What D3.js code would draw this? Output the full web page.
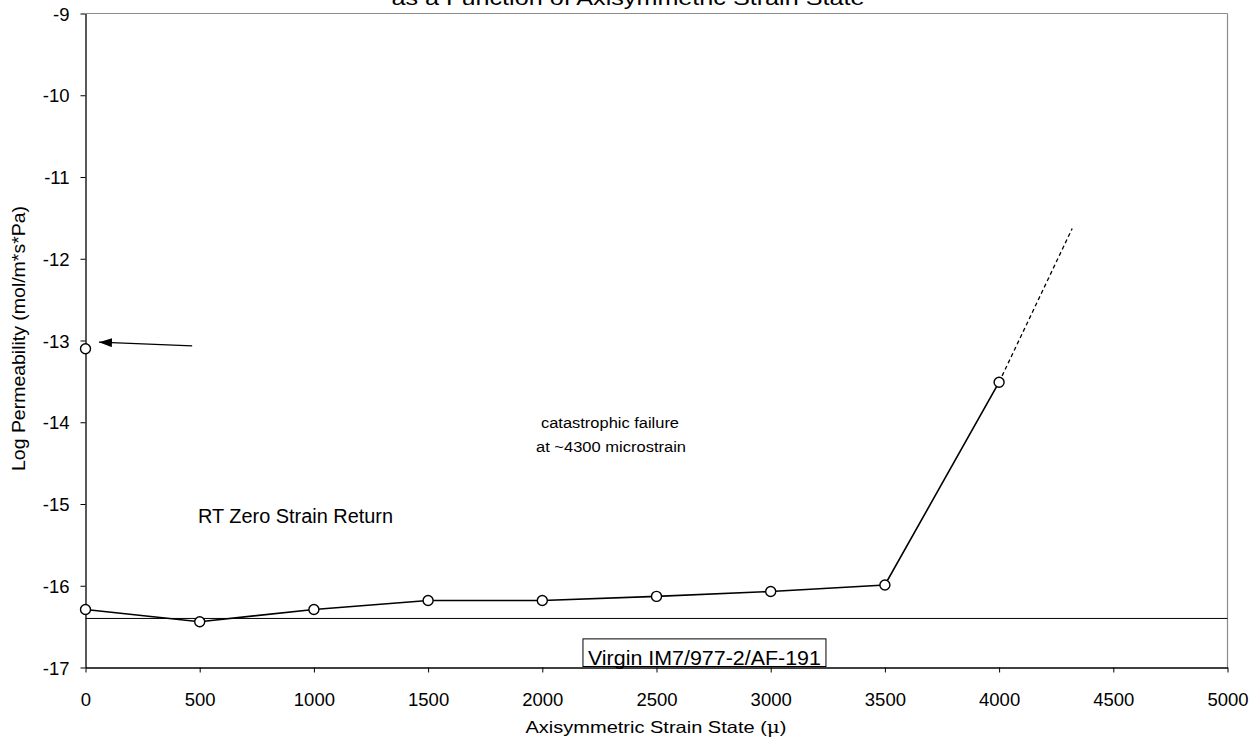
<!DOCTYPE html>
<html>
<head>
<meta charset="utf-8">
<script src="https://cdn.jsdelivr.net/npm/d3@7"></script>
<style>
  html, body { margin: 0; padding: 0; background: #fff; }
  svg { display: block; font-family: "Liberation Sans", Arial, sans-serif; }
</style>
</head>
<body>
<svg id="chart" width="1260" height="745"></svg>
<script>
// Axisymmetric strain levels (microstrain) and measured log permeability
const strain = [0, 500, 1000, 1500, 2000, 2500, 3000, 3500, 4000];
const logPerm = [-16.29, -16.44, -16.29, -16.18, -16.18, -16.13, -16.07, -15.99, -13.51];

// Extrapolated path toward catastrophic failure
const failureStrain = [4000, 4320];
const failureLogPerm = [-13.51, -11.63];

// Room-temperature zero strain return measurement
const returnStrain = [0];
const returnLogPerm = [-13.1];

// Virgin laminate baseline
const virginLogPerm = -16.40;

const xTicks = [0, 500, 1000, 1500, 2000, 2500, 3000, 3500, 4000, 4500, 5000];
const yTicks = [-9, -10, -11, -12, -13, -14, -15, -16, -17];

const svg = d3.select("#chart");
const plotLeft = 85.5, plotRight = 1227.5, plotTop = 13.5, plotBottom = 667.5;

const x = d3.scaleLinear().domain([0, 5000]).range([plotLeft, plotRight]);
const y = d3.scaleLinear().domain([-17, -9]).range([plotBottom, plotTop]);

// Plot frame: grey top and right edges
svg.append("line").attr("x1", plotLeft).attr("x2", plotRight).attr("y1", plotTop).attr("y2", plotTop)
  .attr("stroke", "#8c8c8c").attr("stroke-width", 1.2);
svg.append("line").attr("x1", plotRight).attr("x2", plotRight).attr("y1", plotTop).attr("y2", plotBottom)
  .attr("stroke", "#8c8c8c").attr("stroke-width", 1.2);

// Title (second line)
svg.append("text")
  .attr("x", 628).attr("y", 5)
  .attr("text-anchor", "middle")
  .attr("font-size", 21)
  .attr("textLength", 473).attr("lengthAdjust", "spacingAndGlyphs")
  .text("as a Function of Axisymmetric Strain State");

// Axes
const xAxis = svg.append("g")
  .attr("transform", `translate(0,${plotBottom})`)
  .call(d3.axisBottom(x).tickValues(xTicks).tickSize(5).tickSizeOuter(0)
    .tickFormat(d => String(d)));
xAxis.select(".domain").attr("stroke", "#000").attr("stroke-width", 1.3);
xAxis.selectAll(".tick line").attr("stroke", "#000");
xAxis.selectAll(".tick text")
  .attr("y", 38).attr("dy", null)
  .attr("font-size", 18.5).attr("fill", "#000");

const yAxis = svg.append("g")
  .attr("transform", `translate(${plotLeft},0)`)
  .call(d3.axisLeft(y).tickValues(yTicks).tickSize(5).tickPadding(11).tickSizeOuter(0)
    .tickFormat(d => String(d)));
yAxis.select(".domain").attr("stroke", "#000").attr("stroke-width", 1.3);
yAxis.selectAll(".tick line").attr("stroke", "#000");
yAxis.selectAll(".tick text")
  .attr("font-size", 18.5).attr("fill", "#000").attr("dy", "0.36em");

// Axis titles
const xTitle = svg.append("text")
  .attr("x", 656).attr("y", 733)
  .attr("text-anchor", "middle")
  .attr("font-size", 16.5)
  .attr("textLength", 261).attr("lengthAdjust", "spacingAndGlyphs");
xTitle.append("tspan").text("Axisymmetric Strain State (");
xTitle.append("tspan").attr("font-family", "'DejaVu Serif', 'Liberation Serif', serif").text("μ");
xTitle.append("tspan").text(")");

svg.append("text")
  .attr("transform", `translate(25,${(plotTop + plotBottom) / 2 - 2}) rotate(-90)`)
  .attr("text-anchor", "middle")
  .attr("font-size", 18)
  .attr("textLength", 265).attr("lengthAdjust", "spacingAndGlyphs")
  .text("Log Permeability (mol/m*s*Pa)");

// Virgin baseline
svg.append("line")
  .attr("x1", x(0)).attr("x2", x(5000))
  .attr("y1", y(virginLogPerm)).attr("y2", y(virginLogPerm))
  .attr("stroke", "#000").attr("stroke-width", 1);

// Virgin label box
const vbX0 = x(2710) - 121.5, vbW = 243;
svg.append("rect")
  .attr("x", vbX0).attr("y", y(-16.65))
  .attr("width", vbW).attr("height", y(-17) - y(-16.65) - 1)
  .attr("fill", "#fff").attr("stroke", "#000").attr("stroke-width", 1);
svg.append("text")
  .attr("x", x(2710)).attr("y", y(-16.97))
  .attr("text-anchor", "middle")
  .attr("font-size", 20)
  .attr("textLength", 233).attr("lengthAdjust", "spacingAndGlyphs")
  .text("Virgin IM7/977-2/AF-191");

// Extrapolated failure segment
const line = d3.line().x(d => x(d[0])).y(d => y(d[1]));
svg.append("path")
  .datum(d3.zip(failureStrain, failureLogPerm))
  .attr("d", line)
  .attr("fill", "none").attr("stroke", "#000").attr("stroke-width", 1.3)
  .attr("stroke-dasharray", "4,3");

// Main series
const pts = d3.zip(strain, logPerm);
svg.append("path")
  .datum(pts)
  .attr("d", line)
  .attr("fill", "none").attr("stroke", "#000").attr("stroke-width", 1.6);

svg.selectAll("circle.main")
  .data(pts).join("circle")
  .attr("class", "main")
  .attr("cx", d => x(d[0])).attr("cy", d => y(d[1]))
  .attr("r", 5)
  .attr("fill", "#fff").attr("stroke", "#000").attr("stroke-width", 1.4);

svg.selectAll("circle.ret")
  .data(d3.zip(returnStrain, returnLogPerm)).join("circle")
  .attr("class", "ret")
  .attr("cx", d => x(d[0])).attr("cy", d => y(d[1]))
  .attr("r", 5)
  .attr("fill", "#fff").attr("stroke", "#000").attr("stroke-width", 1.4);

// Arrow pointing at the zero strain return point
svg.append("defs").append("marker")
  .attr("id", "arrowhead")
  .attr("viewBox", "0 0 13 9")
  .attr("refX", 13).attr("refY", 4.5)
  .attr("markerWidth", 13).attr("markerHeight", 9)
  .attr("markerUnits", "userSpaceOnUse")
  .attr("orient", "auto")
  .append("path").attr("d", "M0,0 L13,4.5 L0,9 Z").attr("fill", "#000");

svg.append("line")
  .attr("x1", x(467)).attr("y1", y(-13.065))
  .attr("x2", x(59)).attr("y2", y(-13.02))
  .attr("stroke", "#000").attr("stroke-width", 1.2)
  .attr("marker-end", "url(#arrowhead)");

// Annotations
svg.append("text")
  .attr("x", 198).attr("y", 523)
  .attr("font-size", 19.5)
  .attr("textLength", 195).attr("lengthAdjust", "spacingAndGlyphs")
  .text("RT Zero Strain Return");

svg.append("text")
  .attr("x", 610).attr("y", 428)
  .attr("text-anchor", "middle")
  .attr("font-size", 15.5)
  .attr("textLength", 138).attr("lengthAdjust", "spacingAndGlyphs")
  .text("catastrophic failure");
svg.append("text")
  .attr("x", 611).attr("y", 452)
  .attr("text-anchor", "middle")
  .attr("font-size", 15.5)
  .attr("textLength", 150).attr("lengthAdjust", "spacingAndGlyphs")
  .text("at ~4300 microstrain");
</script>
</body>
</html>
